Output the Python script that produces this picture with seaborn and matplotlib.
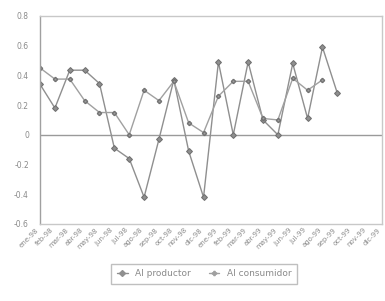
import pandas as pd
import numpy as np
import matplotlib
matplotlib.use("Agg")
import matplotlib.pyplot as plt
import seaborn as sns

# categories (monthly), values
months = ["ene", "feb", "mar", "abr", "may", "jun", "jul", "ago", "sep", "oct", "nov", "dic"]
periods = [f"{m}-{y}" for y in ["98", "99"] for m in months]

productor = [0.34, 0.18, 0.435, 0.435, 0.345, -0.09, -0.16, -0.42, -0.03, 0.37, -0.11, -0.42,
             0.49, 0.0, 0.49, 0.10, 0.0, 0.48, 0.11, 0.59, 0.28, np.nan, np.nan, np.nan]
consumidor = [0.45, 0.375, 0.375, 0.23, 0.15, 0.15, 0.0, 0.30, 0.23, 0.36, 0.08, 0.015,
              0.26, 0.36, 0.36, 0.11, 0.10, 0.38, 0.30, 0.37, np.nan, np.nan, np.nan, np.nan]
yticks = [-0.6, -0.4, -0.2, 0, 0.2, 0.4, 0.6, 0.8]
ytick_labels = ["-0.6", "-0.4", "-0.2", "0", "0.2", "0.4", "0.6", "0.8"]

def generate_chart():
    df = pd.DataFrame({
        "x": list(range(len(periods))) * 2,
        "valor": productor + consumidor,
        "serie": ["Al productor"] * len(periods) + ["Al consumidor"] * len(periods),
    })

    sns.set_theme(style="white")
    fig, ax = plt.subplots(figsize=(3.85, 3.01), dpi=100)
    fig.subplots_adjust(left=0.104, right=0.992, top=0.947, bottom=0.256)

    sns.lineplot(data=df, x="x", y="valor", hue="serie", style="serie",
                 markers={"Al productor": "D", "Al consumidor": "P"}, dashes=False,
                 palette={"Al productor": "#8f8f8f", "Al consumidor": "#a0a0a0"},
                 markersize=3, linewidth=1.0, markeredgecolor="#707070", ax=ax,
                 legend=False)

    ax.axhline(0, color="#9a9a9a", linewidth=1.0, zorder=0)
    ax.set_xlim(0, len(periods) - 1)
    ax.set_ylim(-0.6, 0.8)
    ax.set_yticks(yticks)
    ax.set_yticklabels(ytick_labels, fontsize=5.5, color="#8a8a8a")
    ax.set_xticks(range(len(periods)))
    ax.set_xticklabels(periods, rotation=45, ha="right", fontsize=5, color="#8a8a8a")
    ax.tick_params(axis="y", length=3, color="#9a9a9a", pad=5)
    ax.tick_params(axis="x", length=0, pad=2)
    for s in ax.spines.values():
        s.set_color("#c8c8c8")
        s.set_linewidth(1.0)
    ax.spines["left"].set_color("#a0a0a0")
    ax.set_xlabel("")
    ax.set_ylabel("")

    handles = [
        plt.Line2D([], [], color="#8f8f8f", marker="D", markersize=3, linewidth=1.0),
        plt.Line2D([], [], color="#a0a0a0", marker="P", markersize=3, linewidth=1.0),
    ]
    leg = fig.legend(handles, ["Al productor", "Al consumidor"], loc="center",
                     bbox_to_anchor=(0.53, 0.09), ncol=2, fontsize=6.5,
                     frameon=True, fancybox=False, handlelength=1.2,
                     columnspacing=2.0, borderpad=0.6)
    leg.get_frame().set_edgecolor("#b0b0b0")
    for t in leg.get_texts():
        t.set_color("#8a8a8a")

    fig.savefig("out.png", dpi=100)

if __name__ == "__main__":
    generate_chart()
